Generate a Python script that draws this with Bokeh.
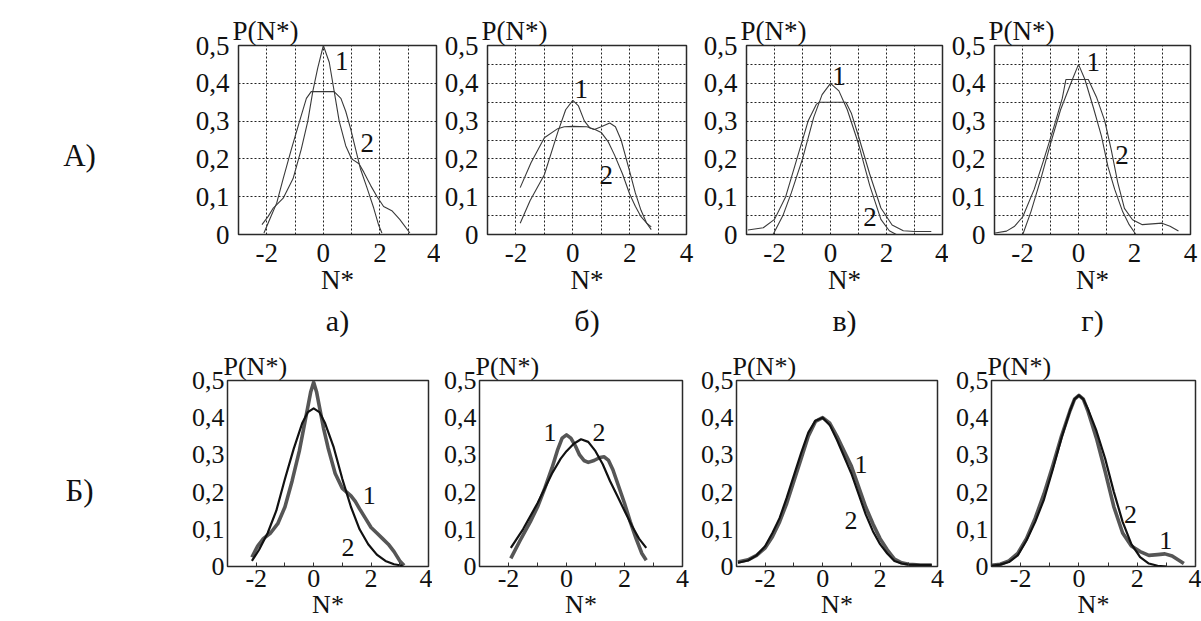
from bokeh.plotting import figure
from bokeh.layouts import row, column
from bokeh.models import Range1d, FixedTicker, CustomJSTickFormatter, Title
from bokeh.embed import file_html
from bokeh.resources import INLINE
from bokeh.core.properties import value

FONT = "'Liberation Serif', serif"
INK = "#111111"

# ---------------- data: row A (grid panels) ----------------
aa_x1 = [-2.17, -1.95, -1.77, -1.42, -1.07, -0.78, -0.55, -0.37, -0.2, 0.0, 0.21, 0.38, 0.56, 0.79, 1.0, 1.26, 1.43, 1.67, 1.9, 2.13, 2.42, 2.7, 3.06]
aa_y1 = [0.026, 0.048, 0.07, 0.096, 0.148, 0.226, 0.30, 0.38, 0.44, 0.50, 0.455, 0.38, 0.30, 0.235, 0.20, 0.187, 0.165, 0.13, 0.10, 0.074, 0.063, 0.04, 0.004]
aa_x2 = [-2.1, -1.88, -1.65, -1.42, -1.13, -0.84, -0.6, -0.43, 0.38, 0.62, 0.79, 0.97, 1.14, 1.31, 1.55, 1.78, 1.95, 2.07]
aa_y2 = [0.004, 0.043, 0.083, 0.148, 0.226, 0.30, 0.36, 0.378, 0.378, 0.36, 0.326, 0.278, 0.226, 0.174, 0.122, 0.07, 0.026, 0.004]

ab_x1 = [-1.85, -1.5, -1.0, -0.53, -0.25, 0.0, 0.2, 0.41, 0.6, 0.76, 1.0, 1.3, 1.5, 1.7, 2.0, 2.2, 2.4, 2.6, 2.76]
ab_y1 = [0.03, 0.09, 0.158, 0.27, 0.33, 0.355, 0.34, 0.30, 0.282, 0.278, 0.285, 0.295, 0.285, 0.25, 0.167, 0.11, 0.064, 0.03, 0.013]
ab_x2 = [-1.85, -1.47, -1.0, -0.53, -0.3, 0.0, 0.5, 0.8, 1.0, 1.25, 1.47, 1.75, 2.0, 2.2, 2.4, 2.6, 2.76]
ab_y2 = [0.124, 0.19, 0.256, 0.28, 0.285, 0.286, 0.285, 0.277, 0.27, 0.245, 0.21, 0.16, 0.107, 0.075, 0.047, 0.03, 0.02]

av_x1 = [-2.05, -1.7, -1.4, -1.0, -0.6, -0.3, 0.0, 0.3, 0.6, 1.0, 1.4, 1.8, 2.1, 2.35]
av_y1 = [0.0, 0.05, 0.11, 0.2, 0.31, 0.37, 0.40, 0.38, 0.33, 0.24, 0.13, 0.04, 0.01, 0.0]
av_x2 = [-2.95, -2.4, -2.0, -1.6, -1.2, -0.8, -0.5, -0.4, 0.55, 0.75, 1.0, 1.4, 1.8, 2.2, 2.6, 3.0, 3.6]
av_y2 = [0.012, 0.018, 0.04, 0.1, 0.2, 0.3, 0.345, 0.35, 0.35, 0.32, 0.26, 0.16, 0.07, 0.025, 0.01, 0.008, 0.008]

ag_x1 = [-1.99, -1.7, -1.35, -1.0, -0.64, -0.29, 0.0, 0.23, 0.53, 0.82, 1.05, 1.29, 1.58, 1.81, 2.05]
ag_y1 = [0.0, 0.06, 0.146, 0.24, 0.33, 0.397, 0.45, 0.41, 0.336, 0.26, 0.18, 0.12, 0.06, 0.026, 0.0]
ag_x2 = [-2.98, -2.57, -2.28, -1.99, -1.58, -1.23, -0.88, -0.58, -0.45, 0.35, 0.64, 0.94, 1.17, 1.4, 1.64, 1.93, 2.28, 2.63, 2.98, 3.27, 3.57]
ag_y2 = [0.004, 0.009, 0.022, 0.047, 0.12, 0.2, 0.284, 0.36, 0.41, 0.41, 0.364, 0.30, 0.224, 0.138, 0.069, 0.039, 0.026, 0.028, 0.03, 0.022, 0.009]

# ---------------- data: row B (smooth panels) ----------------
ba_x1 = [-2.15, -1.95, -1.75, -1.5, -1.25, -1.0, -0.75, -0.5, -0.35, -0.2, -0.1, 0.0, 0.1, 0.2, 0.35, 0.5, 0.75, 1.0, 1.15, 1.3, 1.45, 1.6, 1.8, 2.0, 2.2, 2.4, 2.6, 2.8, 3.0, 3.15]
ba_y1 = [0.025, 0.055, 0.075, 0.09, 0.115, 0.16, 0.23, 0.31, 0.37, 0.43, 0.47, 0.495, 0.47, 0.43, 0.37, 0.32, 0.25, 0.21, 0.2, 0.19, 0.175, 0.155, 0.13, 0.105, 0.09, 0.075, 0.06, 0.04, 0.015, 0.003]
ba_x2 = [-2.15, -1.9, -1.6, -1.3, -1.0, -0.7, -0.4, -0.2, 0.0, 0.2, 0.4, 0.7, 1.0, 1.3, 1.6, 1.9, 2.2, 2.5, 2.8, 3.1]
ba_y2 = [0.015, 0.045, 0.09, 0.15, 0.235, 0.315, 0.385, 0.415, 0.425, 0.415, 0.385, 0.32, 0.235, 0.16, 0.1, 0.06, 0.032, 0.015, 0.006, 0.002]

bb_x1 = [-1.92, -1.6, -1.25, -1.0, -0.75, -0.5, -0.3, -0.15, 0.0, 0.15, 0.3, 0.45, 0.6, 0.75, 0.95, 1.15, 1.3, 1.45, 1.6, 1.8, 2.0, 2.2, 2.4, 2.6, 2.75]
bb_y1 = [0.022, 0.07, 0.12, 0.16, 0.21, 0.265, 0.315, 0.345, 0.354, 0.345, 0.325, 0.3, 0.285, 0.28, 0.285, 0.293, 0.295, 0.285, 0.26, 0.215, 0.17, 0.12, 0.075, 0.035, 0.017]
bb_x2 = [-1.92, -1.5, -1.0, -0.5, -0.2, 0.0, 0.25, 0.5, 0.75, 1.0, 1.25, 1.5, 1.75, 2.0, 2.25, 2.5, 2.75]
bb_y2 = [0.05, 0.1, 0.17, 0.25, 0.29, 0.31, 0.33, 0.342, 0.335, 0.31, 0.275, 0.23, 0.19, 0.15, 0.11, 0.075, 0.05]

bv_x1 = [-2.95, -2.6, -2.3, -2.0, -1.75, -1.5, -1.25, -1.0, -0.75, -0.5, -0.25, 0.0, 0.25, 0.5, 0.75, 1.0, 1.25, 1.5, 1.75, 2.0, 2.25, 2.5, 2.75, 3.0, 3.4, 3.8]
bv_y1 = [0.012, 0.018, 0.03, 0.05, 0.08, 0.12, 0.17, 0.23, 0.29, 0.35, 0.39, 0.40, 0.385, 0.35, 0.31, 0.27, 0.215, 0.16, 0.115, 0.075, 0.045, 0.02, 0.01, 0.006, 0.004, 0.004]
bv_x2 = [-2.95, -2.6, -2.3, -2.0, -1.75, -1.5, -1.25, -1.0, -0.75, -0.5, -0.25, 0.0, 0.25, 0.5, 0.75, 1.0, 1.25, 1.5, 1.75, 2.0, 2.25, 2.5, 2.75, 3.0, 3.4, 3.8]
bv_y2 = [0.01, 0.016, 0.03, 0.055, 0.09, 0.13, 0.185, 0.245, 0.305, 0.36, 0.392, 0.40, 0.38, 0.34, 0.295, 0.25, 0.195, 0.14, 0.095, 0.06, 0.035, 0.015, 0.008, 0.005, 0.004, 0.004]

bg_x1 = [-3.0, -2.7, -2.4, -2.1, -1.8, -1.5, -1.2, -0.9, -0.6, -0.3, -0.15, 0.0, 0.15, 0.3, 0.6, 0.9, 1.2, 1.5, 1.8, 2.1, 2.4, 2.7, 2.95, 3.2, 3.4, 3.6]
bg_y1 = [0.003, 0.006, 0.015, 0.035, 0.075, 0.13, 0.195, 0.27, 0.35, 0.42, 0.45, 0.46, 0.45, 0.42, 0.345, 0.255, 0.16, 0.09, 0.055, 0.04, 0.03, 0.032, 0.034, 0.028, 0.018, 0.008]
bg_x2 = [-3.0, -2.7, -2.4, -2.1, -1.8, -1.5, -1.2, -0.9, -0.6, -0.3, -0.15, 0.0, 0.15, 0.3, 0.6, 0.9, 1.2, 1.5, 1.8, 2.1, 2.4, 2.7, 3.0]
bg_y2 = [0.002, 0.005, 0.012, 0.03, 0.07, 0.12, 0.18, 0.26, 0.345, 0.42, 0.45, 0.46, 0.45, 0.425, 0.365, 0.29, 0.2, 0.12, 0.06, 0.025, 0.008, 0.002, 0.0]

x_major = [-2, 0, 2, 4]
x_minor = [-1, 1, 3]
y_major = [0, 0.1, 0.2, 0.3, 0.4, 0.5]
grid_x = [-2, -1, 0, 1, 2, 3]
grid_y_coarse = [0.1, 0.2, 0.3, 0.4]
grid_y_fine = [0.05, 0.1, 0.15, 0.2, 0.25, 0.3, 0.35, 0.4, 0.45]

Y_FMT = "return tick == 0 ? '0' : tick.toFixed(1).replace('.', ',');"
X_FMT = "return String(Math.round(tick));"


def make_panel(width, height, left, right, top, bottom, curves, labels, subtitle,
               grid_y=None, fs=26, title_off=-6, thick=False):
    p = figure(width=width, height=height, x_range=Range1d(-3, 4), y_range=Range1d(0, 0.5),
               toolbar_location=None, output_backend="svg",
               min_border_left=left, min_border_right=right,
               min_border_top=top, min_border_bottom=bottom, title="P(N*)")
    p.title.text_font = FONT
    p.title.text_font_size = f"{fs}px"
    p.title.text_font_style = "normal"
    p.title.text_color = INK
    p.title.align = "left"
    p.title.offset = title_off
    p.title.standoff = 0
    p.background_fill_color = "white"
    p.border_fill_color = "white"
    p.outline_line_color = "#2a2a2a"
    p.outline_line_width = 1.5

    for ax in (p.xaxis[0], p.yaxis[0]):
        ax.axis_line_color = None
        ax.major_label_text_font = FONT
        ax.major_label_text_font_size = f"{fs}px"
        ax.major_label_text_color = INK
        ax.major_label_standoff = 3
        if thick:
            ax.major_tick_in = 4
            ax.major_tick_out = 0
            ax.minor_tick_in = 4
            ax.minor_tick_out = 0
            ax.major_tick_line_color = "#333333"
            ax.minor_tick_line_color = "#333333"
        else:
            ax.major_tick_line_color = None
            ax.minor_tick_line_color = None
    p.xaxis[0].ticker = FixedTicker(ticks=x_major, minor_ticks=x_minor)
    p.xaxis[0].formatter = CustomJSTickFormatter(code=X_FMT)
    p.yaxis[0].ticker = FixedTicker(ticks=y_major)
    p.yaxis[0].formatter = CustomJSTickFormatter(code=Y_FMT)
    p.yaxis[0].minor_tick_line_color = None
    p.yaxis[0].major_tick_line_color = None
    p.xaxis[0].axis_label = "N*"
    p.xaxis[0].axis_label_text_font = FONT
    p.xaxis[0].axis_label_text_font_size = f"{fs}px"
    p.xaxis[0].axis_label_text_font_style = "normal"
    p.xaxis[0].axis_label_text_color = INK
    p.xaxis[0].axis_label_standoff = 0

    if grid_y is None:
        p.xgrid.grid_line_color = None
        p.ygrid.grid_line_color = None
    else:
        p.xgrid.ticker = FixedTicker(ticks=grid_x)
        p.ygrid.ticker = FixedTicker(ticks=grid_y)
        for g in (p.xgrid, p.ygrid):
            g.grid_line_color = "#222222"
            g.grid_line_dash = "2 2"
            g.grid_line_width = 1

    (x1, y1), (x2, y2) = curves
    if thick:
        p.line(x1, y1, line_color="#4d4d4d", line_width=3.6, line_alpha=0.95, line_join="round")
        p.line(x2, y2, line_color="#111111", line_width=2.2, line_join="round")
    else:
        p.line(x1, y1, line_color="#3a3a3a", line_width=1.1)
        p.line(x2, y2, line_color="#3a3a3a", line_width=1.1)

    lx = [l[0] for l in labels]
    ly = [l[1] for l in labels]
    lt = [l[2] for l in labels]
    p.text(lx, ly, text=lt, text_font=value(FONT), text_font_size=f"{fs}px",
           text_color=INK, text_align="center", text_baseline="middle")

    if subtitle:
        st = Title(text=subtitle, align="center", text_font=FONT, text_font_size="30px",
                   text_font_style="normal", text_color=INK, standoff=8)
        p.add_layout(st, "below")
    return p


def row_label(width, height, text, cx, cy):
    p = figure(width=width, height=height, x_range=Range1d(0, width), y_range=Range1d(0, height),
               toolbar_location=None, output_backend="svg", x_axis_type=None, y_axis_type=None,
               min_border_left=0, min_border_right=0, min_border_top=0, min_border_bottom=0)
    p.grid.grid_line_color = None
    p.outline_line_color = None
    p.text([cx], [height - cy], text=[text], text_font=value(FONT), text_font_size="31px",
           text_color=INK, text_align="center", text_baseline="middle")
    return p


H1, H2 = 340, 281

top_row = row(
    row_label(180, H1, "А)", 79, 198),
    make_panel(260, H1, 58, 4, 45, 102, [(aa_x1, aa_y1), (aa_x2, aa_y2)],
               [(0.65, 0.46, "1"), (1.55, 0.243, "2")], "а)", grid_y_coarse, fs=27),
    make_panel(260, H1, 47, 14, 43, 102, [(ab_x1, ab_y1), (ab_x2, ab_y2)],
               [(0.3, 0.385, "1"), (1.18, 0.158, "2")], "б)", grid_y_fine, fs=27),
    make_panel(248, H1, 46, 6, 45, 102, [(av_x1, av_y1), (av_x2, av_y2)],
               [(0.3, 0.42, "1"), (1.41, 0.047, "2")], "в)", grid_y_fine, fs=27),
    make_panel(253, H1, 43, 11, 44, 102, [(ag_x1, ag_y1), (ag_x2, ag_y2)],
               [(0.53, 0.456, "1"), (1.55, 0.21, "2")], "г)", grid_y_fine, fs=27),
    spacing=0,
)

bottom_row = row(
    row_label(180, H2, "Б)", 79, 166),
    make_panel(252, H2, 47, 4, 39, 54, [(ba_x1, ba_y1), (ba_x2, ba_y2)],
               [(1.94, 0.19, "1"), (1.2, 0.05, "2")], None, None,
               fs=26, title_off=-4, thick=True),
    make_panel(261, H2, 47, 11, 39, 54, [(bb_x1, bb_y1), (bb_x2, bb_y2)],
               [(-0.57, 0.36, "1"), (1.12, 0.36, "2")], None, None,
               fs=26, title_off=-4, thick=True),
    make_panel(252, H2, 43, 8, 38, 54, [(bv_x1, bv_y1), (bv_x2, bv_y2)],
               [(1.34, 0.275, "1"), (0.99, 0.125, "2")], None, None,
               fs=26, title_off=-4, thick=True),
    make_panel(256, H2, 46, 6, 40, 54, [(bg_x1, bg_y1), (bg_x2, bg_y2)],
               [(2.98, 0.07, "1"), (1.77, 0.14, "2")], None, None,
               fs=26, title_off=-4, thick=True),
    spacing=0,
)

layout = column(top_row, bottom_row, spacing=0)
open("out.html", "w").write(file_html(layout, INLINE))
